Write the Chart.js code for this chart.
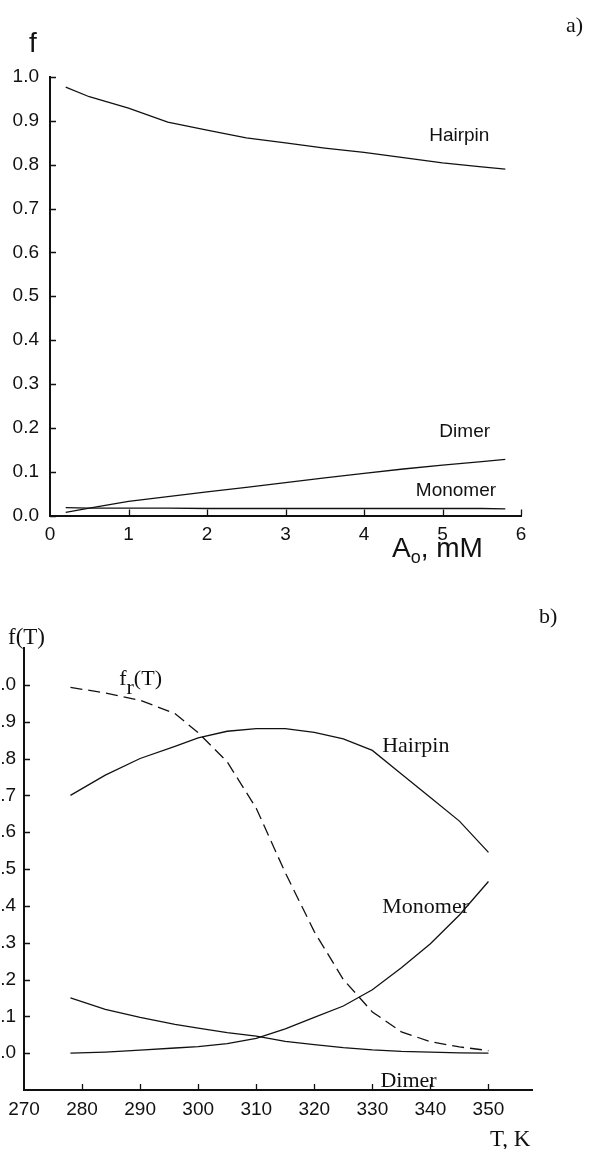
<!DOCTYPE html>
<html>
<head>
<meta charset="utf-8">
<script src="https://cdn.jsdelivr.net/npm/chart.js@4.4.1/dist/chart.umd.min.js"></script>
<style>
  html, body { margin: 0; padding: 0; background: #fff; }
  body { width: 589px; height: 1149px; position: relative; overflow: hidden; }
  #cajaA { position: absolute; left: 0; top: 0; width: 589px; height: 575px; }
  #cajaB { position: absolute; left: -30px; top: 580px; width: 619px; height: 569px; }
</style>
</head>
<body>
<div id="cajaA"><canvas id="graficoA" width="589" height="575"></canvas></div>
<div id="cajaB"><canvas id="graficoB" width="619" height="569"></canvas></div>
<script>
// a) fracciones frente a la concentración A0 (mM)
const concA = [0.2, 0.5, 1.0, 1.5, 2.0, 2.5, 3.0, 3.5, 4.0, 4.5, 5.0, 5.5, 5.8];
const hairpinA = [0.977, 0.955, 0.929, 0.897, 0.879, 0.861, 0.850, 0.838, 0.828, 0.816, 0.804, 0.795, 0.790];
const dimerA = [0.007, 0.017, 0.032, 0.043, 0.054, 0.064, 0.075, 0.086, 0.096, 0.106, 0.115, 0.123, 0.128];
const monomerA = [0.018, 0.017, 0.017, 0.017, 0.016, 0.016, 0.016, 0.016, 0.016, 0.016, 0.016, 0.016, 0.015];
const ticksXA = [0, 1, 2, 3, 4, 5, 6];
const ticksYA = [0.0, 0.1, 0.2, 0.3, 0.4, 0.5, 0.6, 0.7, 0.8, 0.9, 1.0];

// b) fracciones frente a la temperatura (K)
const tempB = [278, 284, 290, 296, 300, 305, 310, 315, 320, 325, 330, 335, 340, 345, 350];
const hairpinB = [0.700, 0.755, 0.800, 0.833, 0.856, 0.874, 0.881, 0.881, 0.871, 0.853, 0.822, 0.758, 0.694, 0.630, 0.545];
const frB = [0.993, 0.978, 0.958, 0.922, 0.870, 0.791, 0.665, 0.490, 0.330, 0.200, 0.112, 0.058, 0.031, 0.017, 0.007];
const monomerB = [0.000, 0.003, 0.008, 0.014, 0.018, 0.026, 0.040, 0.066, 0.097, 0.128, 0.172, 0.232, 0.297, 0.375, 0.466];
const dimerB = [0.150, 0.119, 0.097, 0.078, 0.068, 0.056, 0.046, 0.032, 0.023, 0.015, 0.009, 0.005, 0.003, 0.001, 0.000];
const ticksXB = [270, 280, 290, 300, 310, 320, 330, 340, 350];
const ticksYB = [0.0, 0.1, 0.2, 0.3, 0.4, 0.5, 0.6, 0.7, 0.8, 0.9, 1.0];

const NEGRO = "#111";
const SANS = "'Liberation Sans', Arial, sans-serif";
const SERIF = "'Liberation Serif', 'Times New Roman', serif";

function puntos(xs, ys) {
  return xs.map((x, i) => ({ x: x, y: ys[i] }));
}

function serie(xs, ys, dash) {
  return {
    data: puntos(xs, ys),
    borderColor: NEGRO,
    borderWidth: 1.3,
    borderDash: dash || [],
    pointRadius: 0,
    tension: 0,
    fill: false
  };
}

// Marcas de los ejes hacia dentro, como en la figura original
const marcasInternas = {
  id: "marcasInternas",
  afterDatasetsDraw(chart) {
    const ctx = chart.ctx;
    const { left, bottom } = chart.chartArea;
    const sx = chart.scales.x, sy = chart.scales.y;
    ctx.save();
    ctx.strokeStyle = NEGRO;
    ctx.lineWidth = 1.3;
    ctx.beginPath();
    sy.ticks.forEach(t => {
      const py = Math.round(sy.getPixelForValue(t.value)) + 0.5;
      ctx.moveTo(left, py);
      ctx.lineTo(left + 6, py);
    });
    sx.ticks.forEach(t => {
      const px = Math.round(sx.getPixelForValue(t.value)) + 0.5;
      if (px - left < 3) return;
      ctx.moveTo(px, bottom);
      ctx.lineTo(px, bottom - 6);
    });
    ctx.stroke();
    ctx.restore();
  }
};

// Textos: etiquetas de curvas (en unidades de datos) y títulos (en píxeles)
function dibujarTrozos(ctx, x, y, trozos) {
  let cx = x;
  trozos.forEach(tr => {
    ctx.font = tr.font;
    ctx.fillText(tr.t, cx, y + (tr.dy || 0));
    cx += ctx.measureText(tr.t).width;
  });
}

const textos = {
  id: "textos",
  afterDraw(chart, args, opts) {
    const ctx = chart.ctx;
    const sx = chart.scales.x, sy = chart.scales.y;
    ctx.save();
    ctx.fillStyle = NEGRO;
    ctx.textAlign = "left";
    (opts.etiquetas || []).forEach(e => {
      const px = sx.getPixelForValue(e.x);
      const py = sy.getPixelForValue(e.y);
      ctx.textBaseline = "middle";
      dibujarTrozos(ctx, px, py, e.trozos);
    });
    ctx.textBaseline = "alphabetic";
    (opts.titulos || []).forEach(e => dibujarTrozos(ctx, e.px, e.py, e.trozos));
    ctx.restore();
  }
};

function ejes(cfg) {
  return {
    x: {
      type: "linear",
      min: cfg.xmin, max: cfg.xmax,
      afterBuildTicks: s => { s.ticks = cfg.ticksX.map(v => ({ value: v })); },
      afterFit: s => { s.height = 40; },
      grid: { display: false, drawTicks: false },
      border: { display: true, color: NEGRO, width: 2 },
      ticks: {
        color: NEGRO, padding: 8, maxRotation: 0, autoSkip: false,
        font: { family: SANS, size: 19 },
        callback: v => String(v)
      }
    },
    y: {
      type: "linear",
      min: cfg.ymin, max: cfg.ymax,
      afterBuildTicks: s => { s.ticks = cfg.ticksY.map(v => ({ value: v })); },
      afterFit: s => { s.width = cfg.anchoY; },
      grid: { display: false, drawTicks: false },
      border: { display: true, color: NEGRO, width: 2 },
      ticks: {
        color: NEGRO, padding: cfg.padY, autoSkip: false,
        font: { family: SANS, size: 19 },
        callback: v => Number(v).toFixed(1)
      }
    }
  };
}

const fuenteA = "19px " + SANS;
const fuenteB = "22px " + SERIF;

new Chart(document.getElementById("graficoA"), {
  type: "line",
  data: {
    datasets: [
      serie(concA, hairpinA),
      serie(concA, dimerA),
      serie(concA, monomerA)
    ]
  },
  options: {
    responsive: false,
    animation: false,
    layout: { padding: { left: 0, top: 77, right: 68, bottom: 19.5 } },
    scales: ejes({ xmin: 0, xmax: 6, ymin: 0, ymax: 1, ticksX: ticksXA, ticksY: ticksYA, anchoY: 50, padY: 11 }),
    plugins: {
      legend: { display: false },
      tooltip: { enabled: false },
      textos: {
        etiquetas: [
          { x: 4.83, y: 0.865, trozos: [{ t: "Hairpin", font: fuenteA }] },
          { x: 4.96, y: 0.191, trozos: [{ t: "Dimer", font: fuenteA }] },
          { x: 4.66, y: 0.056, trozos: [{ t: "Monomer", font: fuenteA }] }
        ],
        titulos: [
          { px: 29, py: 52, trozos: [{ t: "f", font: "28px " + SANS }] },
          { px: 566, py: 32, trozos: [{ t: "a)", font: "22px " + SERIF }] },
          { px: 392, py: 557, trozos: [
            { t: "A", font: "28px " + SANS },
            { t: "o", font: "18px " + SANS, dy: 6 },
            { t: ", mM", font: "28px " + SANS }
          ] }
        ]
      }
    }
  },
  plugins: [marcasInternas, textos]
});

new Chart(document.getElementById("graficoB"), {
  type: "line",
  data: {
    datasets: [
      serie(tempB, hairpinB),
      serie(tempB, frB, [12, 6]),
      serie(tempB, monomerB),
      serie(tempB, dimerB)
    ]
  },
  options: {
    responsive: false,
    animation: false,
    layout: { padding: { left: 0, top: 68, right: 57, bottom: 19 } },
    scales: ejes({ xmin: 270, xmax: 357.5, ymin: -0.1, ymax: 1.1, ticksX: ticksXB, ticksY: ticksYB, anchoY: 54, padY: 8 }),
    plugins: {
      legend: { display: false },
      tooltip: { enabled: false },
      textos: {
        etiquetas: [
          { x: 286.4, y: 1.015, trozos: [
            { t: "f", font: fuenteB },
            { t: "r", font: fuenteB, dy: 9 },
            { t: "(T)", font: fuenteB }
          ] },
          { x: 331.7, y: 0.834, trozos: [{ t: "Hairpin", font: fuenteB }] },
          { x: 331.7, y: 0.395, trozos: [{ t: "Monomer", font: fuenteB }] },
          { x: 331.4, y: -0.077, trozos: [{ t: "Dimer", font: fuenteB }] }
        ],
        titulos: [
          { px: 38, py: 64, trozos: [{ t: "f(T)", font: "23px " + SERIF }] },
          { px: 569, py: 43, trozos: [{ t: "b)", font: "22px " + SERIF }] },
          { px: 520, py: 566, trozos: [{ t: "T, K", font: "23px " + SERIF }] }
        ]
      }
    }
  },
  plugins: [marcasInternas, textos]
});
</script>
</body>
</html>
